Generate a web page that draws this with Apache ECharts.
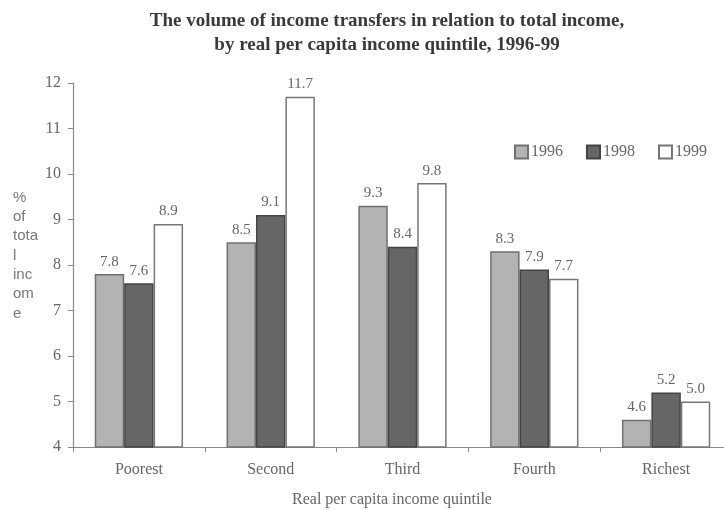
<!DOCTYPE html>
<html>
<head>
<meta charset="utf-8">
<script src="https://cdn.jsdelivr.net/npm/echarts@6/dist/echarts.min.js"></script>
<style>
  html, body { margin: 0; padding: 0; background: #fff; }
  #chart { width: 724px; height: 510px; }
</style>
</head>
<body>
<div id="chart"></div>
<script>
// Income transfers as % of total income, by quintile and year
const quintiles = ['Poorest', 'Second', 'Third', 'Fourth', 'Richest'];
const years = ['1996', '1998', '1999'];
const values1996 = [7.8, 8.5, 9.3, 8.3, 4.6];
const values1998 = [7.6, 9.1, 8.4, 7.9, 5.2];
const values1999 = [8.9, 11.7, 9.8, 7.7, 5.0];
const yTicks = { min: 4, max: 12, step: 1 };

const serif = '"Liberation Serif", "Times New Roman", serif';
const textGray = '#666';

const styles = [
  { color: '#b3b3b3', borderColor: '#707070' },
  { color: '#666666', borderColor: '#444444' },
  { color: '#ffffff', borderColor: '#777777' }
];
const seriesValues = [values1996, values1998, values1999];

const chart = echarts.init(document.getElementById('chart'), null, { renderer: 'canvas' });

chart.setOption({
  animation: false,
  backgroundColor: '#fff',
  // plot area runs a little past the right edge of the canvas
  grid: { left: 73, width: 659, top: 83, height: 364, outerBoundsMode: 'none', containLabel: false },
  legend: {
    data: years,
    left: 514,
    top: 144,
    padding: 0,
    icon: 'rect',
    itemWidth: 13,
    itemHeight: 13,
    itemGap: 23,
    textStyle: { fontFamily: serif, fontSize: 16, color: textGray, padding: [0, 0, 0, -2] }
  },
  xAxis: {
    type: 'category',
    data: quintiles,
    axisLine: { lineStyle: { color: '#888', width: 1.2 } },
    axisTick: { show: true, length: 5, lineStyle: { color: '#888' } },
    axisLabel: { margin: 15, fontFamily: serif, fontSize: 16, color: textGray }
  },
  yAxis: {
    type: 'value',
    min: yTicks.min,
    max: yTicks.max,
    interval: yTicks.step,
    splitLine: { show: false },
    axisLine: { show: true, lineStyle: { color: '#888', width: 1.2 } },
    axisTick: { show: true, length: 5, lineStyle: { color: '#888' } },
    axisLabel: { margin: 12, fontFamily: serif, fontSize: 16, color: textGray }
  },
  series: years.map((y, i) => ({
    name: y,
    type: 'bar',
    data: seriesValues[i],
    barGap: '0%',
    barCategoryGap: '33%',
    itemStyle: { color: styles[i].color, borderColor: styles[i].borderColor, borderWidth: 1.5 },
    label: {
      show: true,
      position: 'top',
      distance: 5,
      fontFamily: serif,
      fontSize: 15,
      color: textGray,
      formatter: p => p.value.toFixed(1)
    }
  })),
  graphic: [
    {
      type: 'text',
      style: {
        x: 387, y: 21,
        text: 'The volume of income transfers in relation to total income,',
        font: 'bold 19px ' + serif,
        fill: '#3a3a3a',
        align: 'center',
        verticalAlign: 'middle'
      }
    },
    {
      type: 'text',
      style: {
        x: 387, y: 45,
        text: 'by real per capita income quintile, 1996-99',
        font: 'bold 19px ' + serif,
        fill: '#3a3a3a',
        align: 'center',
        verticalAlign: 'middle'
      }
    },
    {
      type: 'text',
      style: {
        x: 13, y: 188,
        text: '%\nof\ntota\nl\ninc\nom\ne',
        font: '15px "Liberation Sans", Arial, sans-serif',
        lineHeight: 19.3,
        fill: '#777',
        align: 'left',
        verticalAlign: 'top'
      }
    },
    {
      type: 'text',
      style: {
        x: 392, y: 500,
        text: 'Real per capita income quintile',
        font: '16px ' + serif,
        fill: textGray,
        align: 'center',
        verticalAlign: 'middle'
      }
    }
  ]
});
</script>
</body>
</html>
